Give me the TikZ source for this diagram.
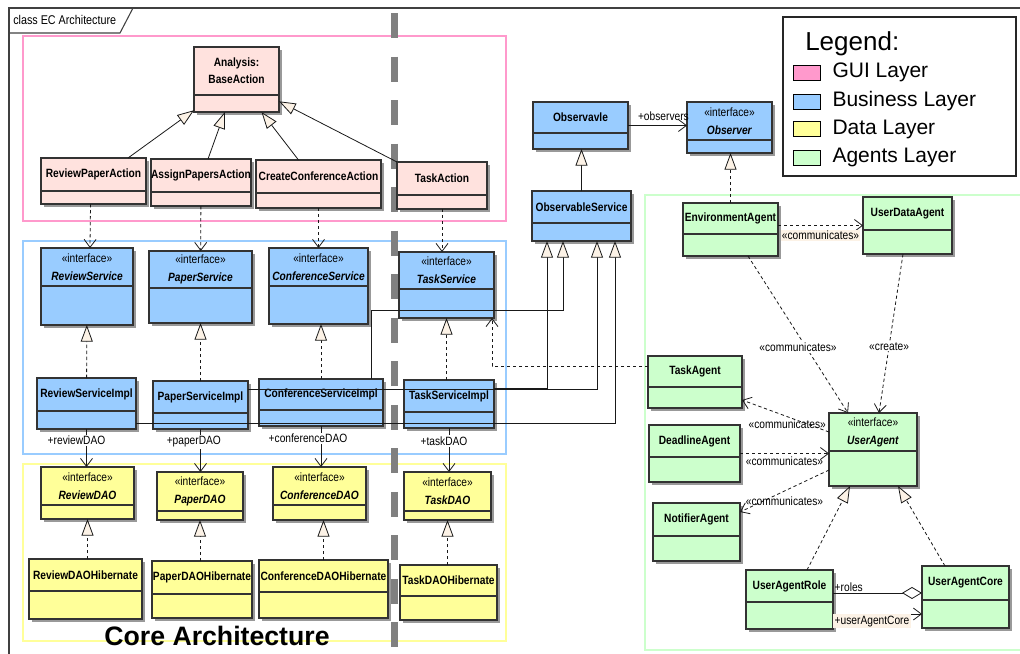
\documentclass[tikz,border=0pt]{standalone}
\usepackage{fontspec}
\setmainfont{Liberation Sans}
\newfontfamily\umlfont[FakeStretch=0.85]{Liberation Sans}
\definecolor{guifill}{RGB}{255,226,222}
\definecolor{guiline}{RGB}{255,153,204}
\definecolor{bizfill}{RGB}{153,204,255}
\definecolor{dataline}{RGB}{255,255,153}
\definecolor{agentfill}{RGB}{204,255,204}
\definecolor{tipfill}{RGB}{252,242,230}
\definecolor{corebar}{RGB}{128,128,128}
\usetikzlibrary{arrows.meta,positioning,calc,fit,shadows}

\newcommand{\umlclass}[8][]{%
  \node[umlbox,#1,fit={(#3,#4) (#5,#6)}] (#2) {};
  \draw[divider] (#3,#7) -- (#5,#7);
  \node[umlname] (#2t) at ({(#3+#5)/2},{(#4+#7)/2}) {#8};}
\newcommand{\iface}[1]{{\mdseries «interface»}\\[2.5pt]\textit{#1}}

\begin{document}
\begin{tikzpicture}[x=0.75pt,y=-0.75pt,
    umlbox/.style={draw=black!80,line width=0.8pt,inner sep=0pt,outer sep=0pt,
      drop shadow={shadow xshift=2.2pt,shadow yshift=-2.2pt,fill=black!40,opacity=1}},
    divider/.style={draw=black!80,line width=0.8pt},
    umlname/.style={font=\umlfont\bfseries\fontsize{9}{11}\selectfont,align=center,inner sep=0pt},
    lbl/.style={font=\umlfont\fontsize{9}{11}\selectfont,inner sep=1pt},
    guicls/.style={fill=guifill},
    bizcls/.style={fill=bizfill},
    datacls/.style={fill=dataline},
    agentcls/.style={fill=agentfill},
    layer/.style={line width=2.2pt},
    gen/.style={draw=black!90,line width=0.6pt,-{Triangle[length=12.5pt,width=9pt,fill=tipfill]}},
    real/.style={gen,dash pattern=on 2.5pt off 2pt},
    dep/.style={draw=black!90,line width=0.6pt,dash pattern=on 2.5pt off 2pt,-{Straight Barb[length=6pt,width=9pt]}},
    assoc/.style={draw=black!90,line width=0.6pt,-{Straight Barb[length=6pt,width=9pt]}},
    aggr/.style={draw=black!90,line width=0.6pt,-{Diamond[length=15pt,width=9pt,fill=white]}},
    swatch/.style={draw,minimum width=20.25pt,minimum height=11.25pt,inner sep=0pt},
    legtext/.style={font=\fontsize{15.75}{18}\selectfont,inner sep=0pt}
    ]
    \useasboundingbox (0,0) rectangle (1020,653);

    % the frame
    \node[font=\umlfont\fontsize{9.5}{11}\selectfont,anchor=base west,inner sep=0pt] (title) at (13,24) {class EC Architecture};
    \draw[black!75,line width=0.8pt] (9,660) -- (9,8) -- (1030,8);
    \draw[black!75,line width=0.8pt] (9,33) -- (120,33) -- (133,8);

    % the layers
    \draw[layer,guiline] (23,36) rectangle (506,221);
    \draw[layer,bizfill] (23,241) rectangle (506,454);
    \draw[layer,dataline] (23,464) rectangle (506,641);
    \draw[layer,agentfill] (645,195) rectangle (1030,650);
    \draw[corebar,line width=5.25pt,dash pattern=on 18.75pt off 13.9pt] (394.5,13) -- (394.5,648);
    \node[font=\bfseries\fontsize{20}{22}\selectfont,anchor=base,inner sep=0pt] (core) at (217,645) {Core Architecture};

    % the legend
    \draw[black!85,line width=0.8pt] (783,17) rectangle (1016,176);
    \node[font=\fontsize{19.5}{22}\selectfont,anchor=base west,inner sep=0pt] (legtitle) at (805,50) {Legend:};
    \foreach \col/\txt/\yy [count=\i] in {guiline/GUI Layer/72.5,bizfill/Business Layer/101.5,dataline/Data Layer/129,agentfill/Agents Layer/157.5}
    {
    \node[swatch,fill=\col] (sw\i) at (806.5,\yy) {};
    \node[legtext,right=9pt of sw\i] (lt\i) {\txt};
    }

    % the GUI classes
    \umlclass[guicls]{baseact}{194}{47}{279}{112}{95}{Analysis:\\[1.5pt]BaseAction}
    \umlclass[guicls]{rpa}{41}{158}{146}{204}{191}{ReviewPaperAction}
    \umlclass[guicls]{apa}{151}{159}{251}{206}{192}{AssignPapersAction}
    \umlclass[guicls]{cca}{256}{160}{381}{208}{193}{CreateConferenceAction}
    \umlclass[guicls]{ta}{397}{162}{487}{209}{195}{TaskAction}

    % the business classes
    \umlclass[bizcls]{rs}{41}{248}{133}{325}{286}{\iface{ReviewService}}
    \umlclass[bizcls]{ps}{149}{251}{252}{323}{288}{\iface{PaperService}}
    \umlclass[bizcls]{cs}{269}{248}{368}{324}{286}{\iface{ConferenceService}}
    \umlclass[bizcls]{ts}{399}{252}{494}{318}{289}{\iface{TaskService}}
    \umlclass[bizcls]{rsi}{37}{378}{136}{429}{411}{ReviewServiceImpl}
    \umlclass[bizcls]{psi}{153}{381}{248}{429}{413}{PaperServiceImpl}
    \umlclass[bizcls]{csi}{259}{379}{383}{426}{410}{ConferenceServiceImpl}
    \umlclass[bizcls]{tsi}{404}{380}{494}{428}{412}{TaskServiceImpl}
    \umlclass[bizcls]{obs}{533}{102}{628}{149}{133}{Observavle}
    \umlclass[bizcls]{obsv}{687}{102}{772}{153}{140}{\iface{Observer}}
    \umlclass[bizcls]{obss}{532}{191}{631}{241}{223}{ObservableService}

    % the data classes
    \umlclass[datacls]{rd}{41}{467}{134}{519}{505}{\iface{ReviewDAO}}
    \umlclass[datacls]{pd}{157}{472}{243}{520}{511}{\iface{PaperDAO}}
    \umlclass[datacls]{cd}{273}{467}{366}{520}{505}{\iface{ConferenceDAO}}
    \umlclass[datacls]{td}{404}{472}{491}{520}{511}{\iface{TaskDAO}}
    \umlclass[datacls]{rdh}{29}{559}{142}{619}{591}{ReviewDAOHibernate}
    \umlclass[datacls]{pdh}{152}{561}{252}{618}{594}{PaperDAOHibernate}
    \umlclass[datacls]{cdh}{259}{560}{388}{618}{592}{ConferenceDAOHibernate}
    \umlclass[datacls]{tdh}{400}{565}{497}{620}{596}{TaskDAOHibernate}

    % the agents
    \umlclass[agentcls]{env}{683}{203}{778}{256}{234}{EnvironmentAgent}
    \umlclass[agentcls]{uda}{863}{197}{952}{254}{230}{UserDataAgent}
    \umlclass[agentcls]{tag}{648}{356}{742}{408}{387}{TaskAgent}
    \umlclass[agentcls]{dag}{649}{425}{740}{482}{457}{DeadlineAgent}
    \umlclass[agentcls]{nag}{653}{503}{740}{561}{536}{NotifierAgent}
    \umlclass[agentcls]{ua}{829}{413}{917}{486}{451}{\iface{UserAgent}}
    \umlclass[agentcls]{uar}{746}{570}{833}{629}{602}{UserAgentRole}
    \umlclass[agentcls]{uac}{922}{566}{1009}{628}{600}{UserAgentCore}

    % GUI edges
    \draw[gen] ($(rpa.north east)+(-18,0)$) -- (baseact);
    \draw[gen] ($(apa.north)+(7,0)$) -- (baseact);
    \draw[gen] ($(cca.north)+(-20,0)$) -- (baseact);
    \draw[gen] (ta.north west) -- (baseact);
    \draw[dep] ($(rpa.south)+(-3,0)$) -- ($(rs.north)+(3,0)$);
    \draw[dep] (apa) -- (ps);
    \draw[dep] (cca) -- (cs);
    \draw[dep] (ta.south) -- (ta.south |- ts.north);

    % business edges
    \draw[real] (rsi) -- (rs);
    \draw[real] (psi) -- (ps);
    \draw[real] (csi.north) -- (csi.north |- cs.south);
    \draw[real] (ts.south |- tsi.north) -- (ts.south);
    \draw[gen] ($(rsi.south east)+(0,-6)$) -| ($(obss.south east)+(-16,0)$);
    \draw[gen] ($(psi.east)+(0,-16)$) -| ($(obss.south)+(15.5,0)$);
    \draw[gen] ($(tsi.east)+(0,-16)$) -| ($(obss.south)+(-34.5,0)$);
    \draw[gen] ($(csi.north east)+(-12,0)$) -- ++(0,-69) -| ($(obss.south)+(-18.5,0)$);
    \draw[gen] (obss.north) -- (obss.north |- obs.south);
    \draw[assoc] (obs.east) -- node[lbl,above=2pt,pos=0.6] (obsl) {+observers} (obs.east -| obsv.west);

    % data edges
    \draw[assoc] (rsi.south) -- node[lbl,fill=white,pos=0.3,xshift=-7.5pt] (rdl) {+reviewDAO} (rsi.south |- rd.north);
    \draw[assoc] (psi.south) -- node[lbl,fill=white,pos=0.3,xshift=-5pt] (pdl) {+paperDAO} (psi.south |- pd.north);
    \draw[assoc] (csi.south) -- node[lbl,fill=white,pos=0.3,xshift=-9.75pt] (cdl) {+conferenceDAO} (csi.south |- cd.north);
    \draw[assoc] (tsi.south) -- node[lbl,fill=white,pos=0.3,xshift=-3.75pt] (tdl) {+taskDAO} (tsi.south |- td.north);
    \draw[real] (rd.south |- rdh.north) -- (rd.south);
    \draw[real] (pd.south |- pdh.north) -- (pd.south);
    \draw[real] (cdh.north) -- (cdh.north |- cd.south);
    \draw[real] (td.south |- tdh.north) -- (td.south);

    % agent edges
    \draw[real] (env.north) -- (env.north |- obsv.south);
    \draw[dep] ($(tag.west)+(0,-16)$) -| ($(ts.south east)+(-2,0)$);
    \draw[dep] (uda.west -| env.east) -- node[lbl,fill=tipfill,below=3pt] (c1) {«communicates»} (uda.west);
    \draw[dep] ($(env.south)+(17.5,0)$) -- node[lbl,fill=white,pos=0.58,xshift=-6pt] (c2) {«communicates»} ($(ua.north)+(-25,0)$);
    \draw[dep] ($(uda.south)+(-4.5,0)$) -- node[lbl,fill=white,pos=0.58] (c3) {«create»} ($(ua.north)+(6,0)$);
    \draw[dep] ($(ua.west)+(0,-17.5)$) -- node[lbl,below=1pt,pos=0.48] (c4) {«communicates»} ($(tag.south east)+(0,-8)$);
    \draw[dep] (dag.east) -- node[lbl,below=1pt] (c5) {«communicates»} (dag.east -| ua.west);
    \draw[dep] ($(ua.west)+(0,20.5)$) -- node[lbl,below=3pt] (c6) {«communicates»} ($(nag.east)+(0,-20)$);
    \draw[real] ($(uar.north)+(17.5,0)$) -- ($(ua.south)+(-23,0)$);
    \draw[real] ($(uac.north)+(-20.5,0)$) -- ($(ua.south)+(25,0)$);
    \draw[aggr] ([yshift=4.9pt]uar.east) -- node[lbl,pos=0,above right] (roles) {+roles} ([yshift=4.9pt]uar.east -| uac.west);
    \draw[assoc] ([yshift=-10.9pt]uar.east) -- node[lbl,pos=0,below right,fill=tipfill] (corel) {+userAgentCore} ([yshift=-10.9pt]uar.east -| uac.west);
\end{tikzpicture}
\end{document}
